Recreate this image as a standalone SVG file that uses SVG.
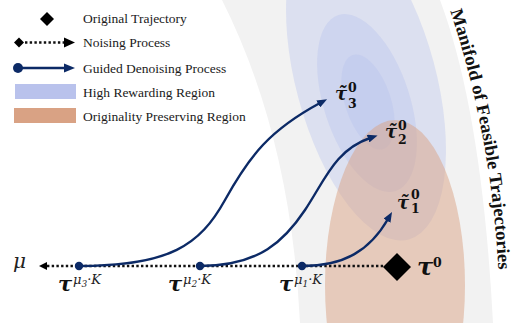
<svg xmlns="http://www.w3.org/2000/svg" width="515" height="326" viewBox="0 0 515 326">
<defs>
<style>
.lg{font-family:"Liberation Serif","Times New Roman",serif;font-size:13.5px;fill:#1a1a1a}
.navy{stroke:#0c2a66;fill:none;stroke-width:2.4}
.nfill{fill:#0c2a66}
.dots{stroke:#111;stroke-width:2.6;stroke-dasharray:2.4 2.3;fill:none}
.tau{font-family:"DejaVu Serif",serif;font-weight:bold;font-style:italic;fill:#111}
.num{font-family:"DejaVu Serif",serif;font-weight:bold;fill:#111}
.it{font-family:"DejaVu Serif",serif;font-style:italic;fill:#222}
.blue{fill:#b9c2ec;fill-opacity:0.38}
.orange{fill:#d9a284;fill-opacity:0.5}
.title{font-family:"Liberation Serif","Times New Roman",serif;font-weight:bold;font-size:18px;fill:#111}
</style>
<marker id="ah" markerUnits="userSpaceOnUse" markerWidth="10" markerHeight="8" viewBox="0 0 10 8" refX="2" refY="4" orient="auto"><path d="M0,0 L10,4 L0,8 z" fill="#0c2a66"/></marker>
<clipPath id="cp"><rect x="0" y="0" width="515" height="323"/></clipPath>
<path id="tp" d="M450,10 Q493,140 499,282"/>
</defs>

<g id="manifold" clip-path="url(#cp)">
<path d="M222,0 Q291,137 300,323 L493,323 Q482,112 440,0 Z" fill="#f2f2f2"/>
<text class="title"><textPath href="#tp" startOffset="1" textLength="264" lengthAdjust="spacingAndGlyphs">Manifold of Feasible Trajectories</textPath></text>
</g>

<g id="high-reward-region">
<ellipse class="blue" cx="366" cy="80" rx="70" ry="165" transform="rotate(-15 366 80)"/>
<ellipse class="blue" cx="367" cy="103" rx="43" ry="92.5" transform="rotate(-18 367 103)"/>
<ellipse class="blue" cx="368" cy="102" rx="23" ry="49.5" transform="rotate(-18 368 102)"/>
</g>

<g id="originality-region" clip-path="url(#cp)">
<ellipse class="orange" cx="395" cy="285" rx="70" ry="165"/>
</g>

<g id="legend">
<g id="lg-original">
<path d="M47,12 L54,19 L47,26 L40,19 Z" fill="#000"/>
<text class="lg" x="83" y="23">Original Trajectory</text>
</g>
<g id="lg-noising">
<path d="M19,37.5 L24,42.5 L19,47.5 L14,42.5 Z" fill="#000"/>
<line class="dots" x1="25" y1="42.5" x2="64" y2="42.5"/>
<path d="M64,37.5 L75,42.5 L64,47.5 Z" fill="#000"/>
<text class="lg" x="83" y="47">Noising Process</text>
</g>
<g id="lg-guided">
<line x1="18" y1="68" x2="66" y2="68" stroke="#0c2a66" stroke-width="2.6"/>
<circle class="nfill" cx="18" cy="68" r="5"/>
<path class="nfill" d="M64,63.5 L75,68 L64,72.5 Z"/>
<text class="lg" x="83" y="72.5">Guided Denoising Process</text>
</g>
<g id="lg-high">
<rect x="15" y="84" width="61" height="15" fill="#b9c2ec"/>
<text class="lg" x="83" y="97">High Rewarding Region</text>
</g>
<g id="lg-orig">
<rect x="14" y="108" width="62" height="15" fill="#d9a284"/>
<text class="lg" x="83" y="121">Originality Preserving Region</text>
</g>
</g>

<g id="connectors">
<line class="dots" x1="47" y1="266" x2="384" y2="266"/>
<path d="M39,266 L47,262 L47,270 Z" fill="#000"/>
<path class="navy" marker-end="url(#ah)" d="M79,266 C170,266 200,245 225,200 S270,130 320,103"/>
<path class="navy" marker-end="url(#ah)" d="M200,266 C260,266 285,240 305,210 S335,150 370,138"/>
<path class="navy" marker-end="url(#ah)" d="M302,266 C345,266 370,250 388,219"/>
</g>

<g id="mu">
<text class="it" x="13" y="268" font-size="20" fill="#111">μ</text>
</g>

<g id="tau-mu3">
<circle class="nfill" cx="79" cy="266" r="4.2"/>
<text class="tau" x="58" y="291" font-size="21">τ</text>
<text class="it" x="73" y="284" font-size="13">μ<tspan font-size="9" dy="3">3</tspan><tspan dy="-3">·K</tspan></text>
</g>
<g id="tau-mu2">
<circle class="nfill" cx="200" cy="266" r="4.2"/>
<text class="tau" x="168" y="291" font-size="21">τ</text>
<text class="it" x="183" y="284" font-size="13">μ<tspan font-size="9" dy="3">2</tspan><tspan dy="-3">·K</tspan></text>
</g>
<g id="tau-mu1">
<circle class="nfill" cx="302" cy="266" r="4.2"/>
<text class="tau" x="279" y="291" font-size="21">τ</text>
<text class="it" x="294" y="284" font-size="13">μ<tspan font-size="9" dy="3">1</tspan><tspan dy="-3">·K</tspan></text>
</g>

<g id="tau0">
<path d="M397,253 L411,267 L397,281 L383,267 Z" fill="#000"/>
<text class="tau" x="417" y="275" font-size="24">τ</text>
<text class="num" x="433" y="267" font-size="12.5">0</text>
</g>

<g id="tau3">
<text class="tau" x="335" y="100" font-size="18">τ̃</text>
<text class="num" x="348" y="92" font-size="12.5">0</text>
<text class="num" x="348" y="108" font-size="12.5">3</text>
</g>
<g id="tau2">
<text class="tau" x="385" y="138" font-size="18">τ̃</text>
<text class="num" x="398" y="130" font-size="12.5">0</text>
<text class="num" x="398" y="144" font-size="12.5">2</text>
</g>
<g id="tau1">
<text class="tau" x="397" y="209" font-size="18">τ̃</text>
<text class="num" x="411" y="199" font-size="12.5">0</text>
<text class="num" x="411" y="213" font-size="12.5">1</text>
</g>
</svg>
